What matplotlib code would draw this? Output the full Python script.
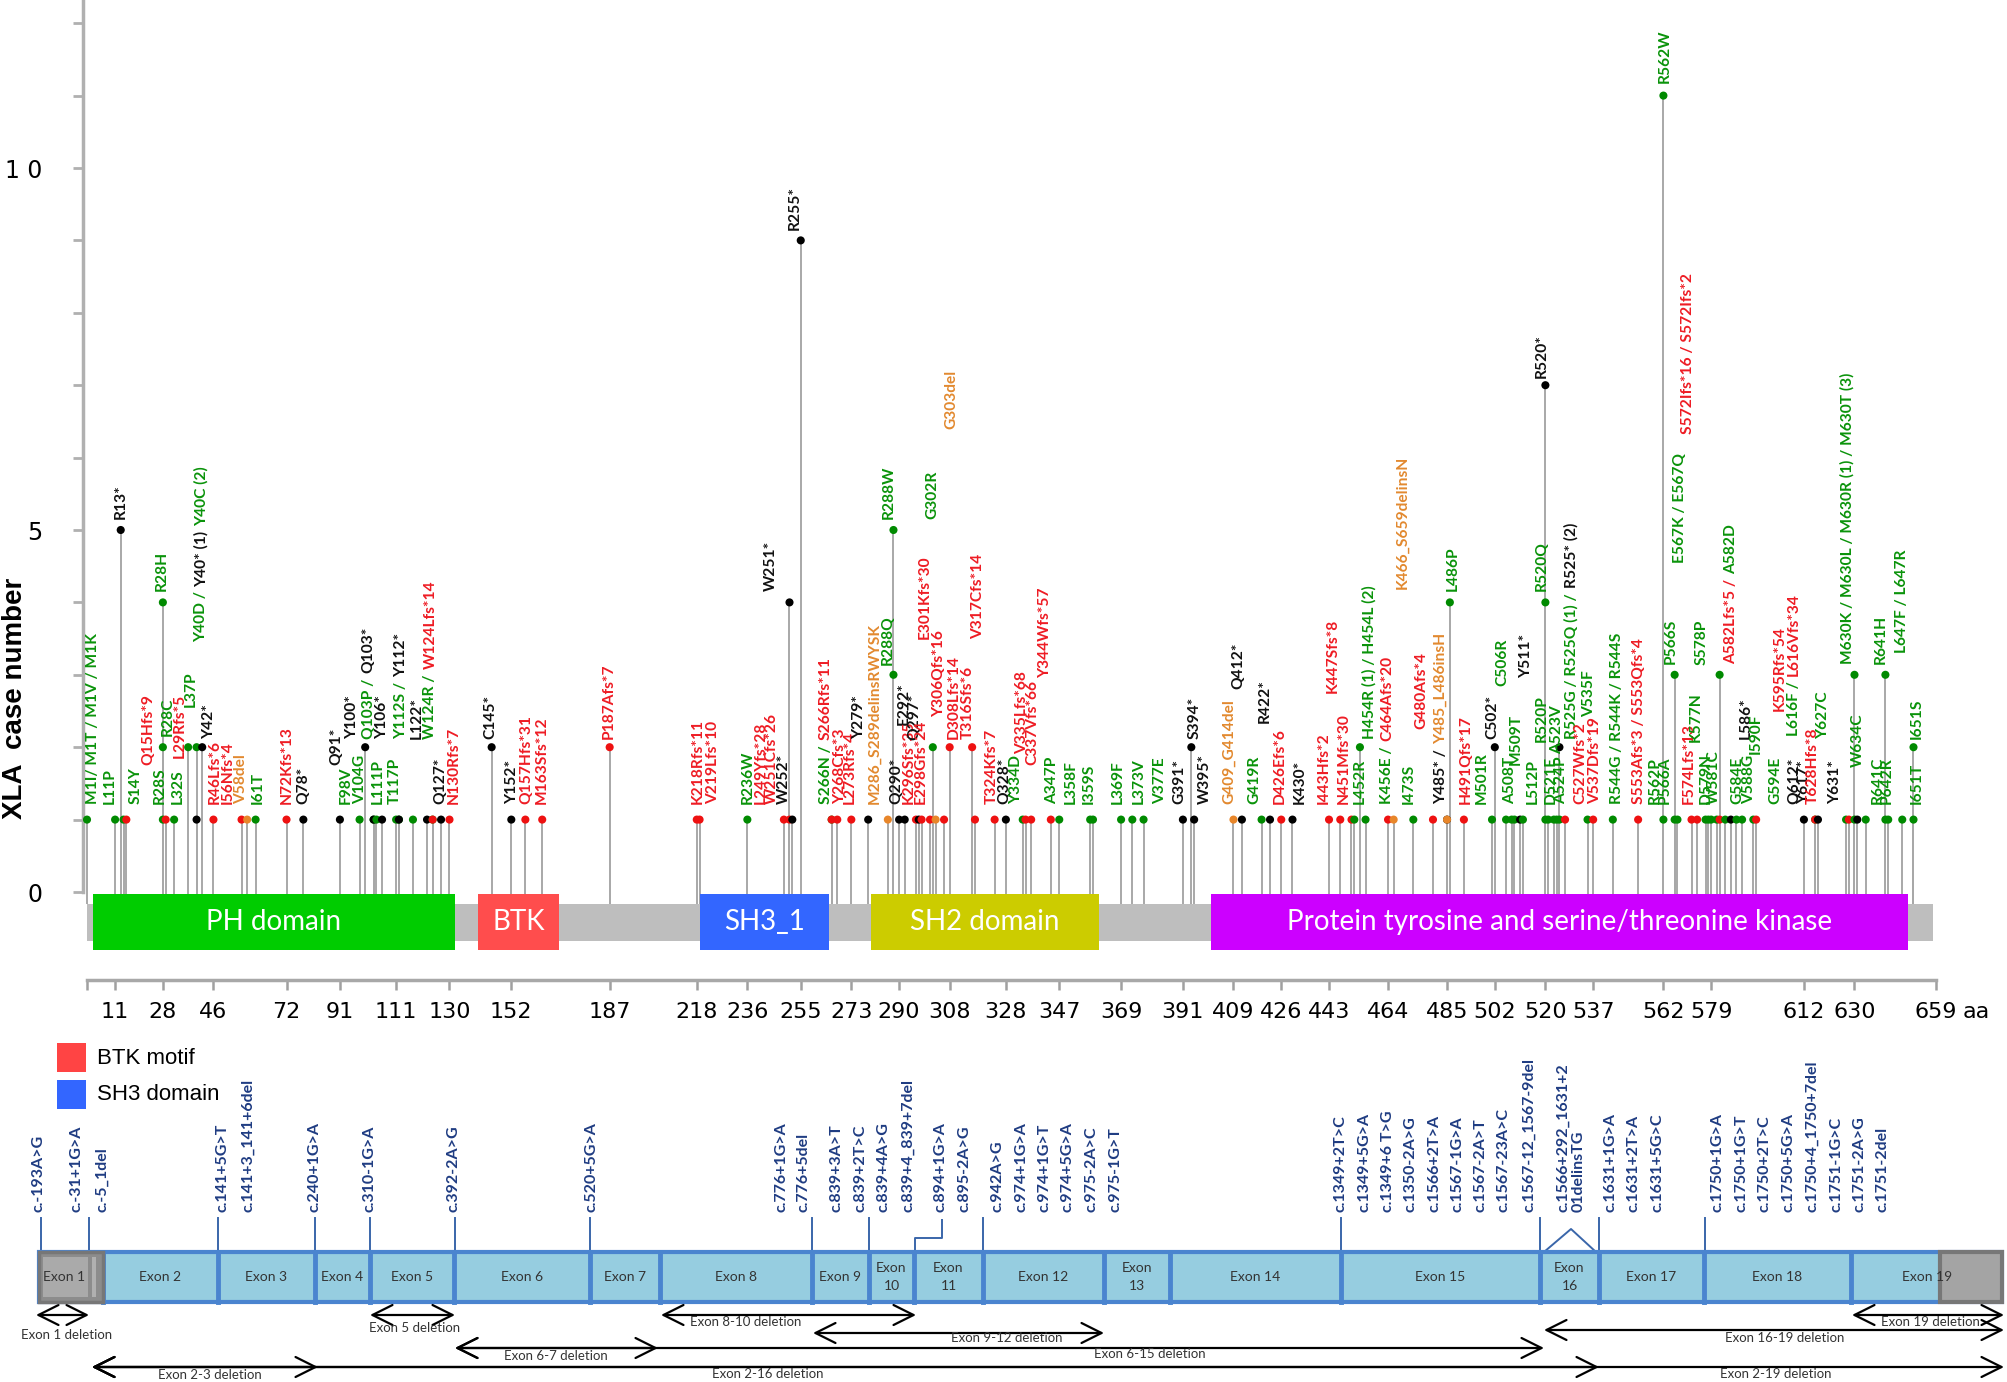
import matplotlib
matplotlib.use('Agg')
import matplotlib.pyplot as plt
from matplotlib.patches import Rectangle
from matplotlib import transforms

W, H = 2008, 1382
fig = plt.figure(figsize=(W / 100, H / 100), dpi=100)

# ---------------- data ----------------
protein_length = 659
domain_names = ['PH domain', 'BTK', 'SH3_1', 'SH2 domain',
                'Protein tyrosine and serine/threonine kinase']
domain_start = [3, 140, 219, 280, 401]
domain_end = [132, 169, 265, 361, 649]
ruler_ticks = [1, 11, 28, 46, 72, 91, 111, 130, 152, 187, 218, 236, 255, 273, 290,
               308, 328, 347, 369, 391, 409, 426, 443, 464, 485, 502, 520, 537, 562,
               579, 612, 630, 659]

mut_pos = [1, 11, 13, 14, 15, 28, 28, 28, 29, 32, 37, 40, 40, 42, 46, 56, 58, 61, 72, 78,
           91, 98, 100, 103, 103, 104, 106, 111, 112, 112, 117, 122, 124, 124, 127, 130,
           145, 152, 157, 163, 187, 218, 219, 236, 249, 251, 251, 252, 255, 266, 266, 268,
           273, 279, 286, 288, 288, 290, 292, 296, 297, 298, 301, 302, 303, 306, 308, 316,
           317, 324, 328, 334, 335, 337, 344, 347, 358, 359, 369, 373, 377, 391, 394, 395,
           409, 412, 419, 422, 426, 430, 443, 447, 451, 452, 454, 456, 464, 466, 473, 480,
           485, 485, 486, 491, 501, 502, 506, 508, 509, 511, 512, 520, 520, 520, 521, 523,
           524, 525, 525, 527, 535, 537, 544, 553, 562, 562, 566, 566, 567, 572, 574, 577,
           578, 579, 581, 582, 582, 584, 586, 588, 590, 594, 595, 612, 616, 616, 617, 627,
           628, 630, 630, 631, 634, 641, 641, 642, 647, 651, 651]
mut_count = [1, 1, 5, 1, 1, 1, 2, 4, 1, 1, 2, 2, 1, 2, 1, 1, 1, 1, 1, 1,
             1, 1, 2, 1, 1, 1, 1, 1, 1, 1, 1, 1, 1, 1, 1, 1,
             2, 1, 1, 1, 2, 1, 1, 1, 1, 1, 4, 1, 9, 1, 1, 1,
             1, 1, 1, 3, 5, 1, 1, 1, 1, 1, 1, 2, 1, 1, 2, 2,
             1, 1, 1, 1, 1, 1, 1, 1, 1, 1, 1, 1, 1, 1, 2, 1,
             1, 1, 1, 1, 1, 1, 1, 1, 1, 1, 2, 1, 1, 1, 1, 1,
             1, 1, 4, 1, 1, 2, 1, 1, 1, 1, 1, 1, 4, 7, 1, 1,
             1, 1, 2, 1, 1, 1, 1, 1, 1, 11, 1, 3, 1, 1, 1, 1,
             1, 1, 1, 1, 3, 1, 1, 1, 1, 1, 1, 1, 1, 1, 1, 1,
             1, 1, 3, 1, 1, 1, 3, 1, 1, 2, 1]
mut_type = ['mis', 'mis', 'non', 'mis', 'fs', 'mis', 'mis', 'mis', 'fs', 'mis', 'mis', 'mis', 'non', 'non', 'fs', 'fs', 'inf', 'mis', 'fs', 'non',
            'non', 'mis', 'non', 'mis', 'non', 'mis', 'non', 'mis', 'mis', 'non', 'mis', 'non', 'mis', 'fs', 'non', 'fs',
            'non', 'non', 'fs', 'fs', 'fs', 'fs', 'fs', 'mis', 'fs', 'fs', 'non', 'non', 'non', 'mis', 'fs', 'fs',
            'fs', 'non', 'inf', 'mis', 'mis', 'non', 'non', 'fs', 'non', 'fs', 'fs', 'mis', 'inf', 'fs', 'fs', 'fs',
            'fs', 'fs', 'non', 'mis', 'fs', 'fs', 'fs', 'mis', 'mis', 'mis', 'mis', 'mis', 'mis', 'non', 'non', 'non',
            'inf', 'non', 'mis', 'non', 'fs', 'non', 'fs', 'fs', 'fs', 'mis', 'mis', 'mis', 'fs', 'inf', 'mis', 'fs',
            'non', 'inf', 'mis', 'fs', 'mis', 'non', 'mis', 'mis', 'mis', 'non', 'mis', 'mis', 'mis', 'non', 'mis', 'mis',
            'mis', 'mis', 'non', 'fs', 'mis', 'fs', 'mis', 'fs', 'mis', 'mis', 'mis', 'mis', 'mis', 'fs', 'fs', 'mis',
            'mis', 'mis', 'mis', 'fs', 'mis', 'mis', 'non', 'mis', 'mis', 'mis', 'fs', 'non', 'mis', 'fs', 'non', 'mis',
            'fs', 'mis', 'mis', 'non', 'mis', 'mis', 'mis', 'mis', 'mis', 'mis', 'mis']

# label layout: (anchor aa, bottom case-number level, [(text, kind), ...])
mut_labels = [
    (3.3, 1.22, [('M1I/ M1T / M1V / M1K', 'mis')]),
    (9.2, 1.22, [('L11P', 'mis')]),
    (13.0, 5.15, [('R13*', 'non')]),
    (18.3, 1.22, [('S14Y', 'mis')]),
    (22.9, 1.75, [('Q15Hfs*9', 'fs')]),
    (27.0, 1.22, [('R28S', 'mis')]),
    (29.7, 2.15, [('R28C', 'mis')]),
    (27.5, 4.16, [('R28H', 'mis')]),
    (33.4, 1.22, [('L32S', 'mis')]),
    (34.0, 1.85, [('L29Rfs*5', 'fs')]),
    (37.9, 2.55, [('L37P', 'mis')]),
    (41.6, 3.45, [('Y40D /', 'mis'), ('Y40* (1)', 'non'), ('Y40C (2)', 'mis')]),
    (44.3, 2.12, [('Y42*', 'non')]),
    (46.6, 1.22, [('R46Lfs*6', 'fs')]),
    (51.2, 1.22, [('I56Nfs*4', 'fs')]),
    (55.7, 1.22, [('V58del', 'inf')]),
    (61.6, 1.22, [('I61T', 'mis')]),
    (72.1, 1.22, [('N72Kfs*13', 'fs')]),
    (78.0, 1.22, [('Q78*', 'non')]),
    (89.9, 1.75, [('Q91*', 'non')]),
    (93.1, 1.22, [('F98V', 'mis')]),
    (95.4, 2.12, [('Y100*', 'non')]),
    (98.1, 1.22, [('V104G', 'mis')]),
    (101.3, 2.12, [('Q103P /', 'mis'), ('Q103*', 'non')]),
    (104.5, 1.22, [('L111P', 'mis')]),
    (106.0, 2.12, [('Y106*', 'non')]),
    (110.4, 1.22, [('T117P', 'mis')]),
    (112.7, 2.12, [('Y112S /', 'mis'), ('Y112*', 'non')]),
    (118.2, 2.12, [('L122*', 'non')]),
    (123.2, 2.12, [('W124R /', 'mis'), ('W124Lfs*14', 'fs')]),
    (126.8, 1.22, [('Q127*', 'non')]),
    (131.4, 1.22, [('N130Rfs*7', 'fs')]),
    (144.6, 2.12, [('C145*', 'non')]),
    (152.3, 1.22, [('Y152*', 'non')]),
    (157.3, 1.22, [('Q157Hfs*31', 'fs')]),
    (162.8, 1.22, [('M163Sfs*12', 'fs')]),
    (186.5, 2.12, [('P187Afs*7', 'fs')]),
    (218.4, 1.22, [('K218Rfs*11', 'fs')]),
    (223.9, 1.22, [('V219Lfs*10', 'fs')]),
    (236.2, 1.22, [('R236W', 'mis')]),
    (240.7, 1.22, [('L249Yfs*28', 'fs')]),
    (244.8, 1.22, [('W251Cfs*26', 'fs')]),
    (248.9, 1.22, [('W252*', 'non')]),
    (244.4, 4.16, [('W251*', 'non')]),
    (253.0, 9.15, [('R255*', 'non')]),
    (264.0, 1.22, [('S266N /', 'mis'), ('S266Rfs*11', 'fs')]),
    (269.0, 1.22, [('Y268Cfs*3', 'fs')]),
    (272.6, 1.22, [('L273Rfs*4', 'fs')]),
    (275.8, 2.12, [('Y279*', 'non')]),
    (281.3, 1.22, [('M286_S289delinsRWYSK', 'inf')]),
    (285.9, 3.14, [('R288Q', 'mis')]),
    (286.3, 5.15, [('R288W', 'mis')]),
    (289.0, 1.22, [('Q290*', 'non')]),
    (291.8, 2.3, [('E292*', 'non')]),
    (293.6, 1.22, [('K296Sfs*35', 'fs')]),
    (295.6, 2.1, [('Q297*', 'non')]),
    (297.7, 1.22, [('E298Gfs*24', 'fs')]),
    (299.0, 3.49, [('E301Kfs*30', 'fs')]),
    (301.8, 5.15, [('G302R', 'mis')]),
    (304.1, 2.42, [('Y306Qfs*16', 'fs')]),
    (308.6, 6.4, [('G303del', 'inf')]),
    (309.5, 2.12, [('D308Lfs*14', 'fs')]),
    (314.6, 2.12, [('T316Sfs*6', 'fs')]),
    (318.2, 3.49, [('V317Cfs*14', 'fs')]),
    (322.8, 1.22, [('T324Kfs*7', 'fs')]),
    (327.4, 1.22, [('Q328*', 'non')]),
    (331.6, 1.22, [('Y334D', 'mis')]),
    (333.7, 1.9, [('V335Lfs*68', 'fs')]),
    (337.4, 1.75, [('C337Vfs*66', 'fs')]),
    (341.9, 2.96, [('Y344Wfs*57', 'fs')]),
    (344.6, 1.22, [('A347P', 'mis')]),
    (351.0, 1.22, [('L358F', 'mis')]),
    (357.4, 1.22, [('I359S', 'mis')]),
    (367.9, 1.22, [('L369F', 'mis')]),
    (375.2, 1.22, [('L373V', 'mis')]),
    (382.9, 1.22, [('V377E', 'mis')]),
    (389.7, 1.22, [('G391*', 'non')]),
    (395.2, 2.12, [('S394*', 'non')]),
    (398.9, 1.22, [('W395*', 'non')]),
    (407.5, 1.22, [('G409_G414del', 'inf')]),
    (410.7, 2.8, [('Q412*', 'non')]),
    (416.6, 1.22, [('G419R', 'mis')]),
    (420.3, 2.34, [('R422*', 'non')]),
    (425.3, 1.22, [('D426Efs*6', 'fs')]),
    (432.6, 1.22, [('K430*', 'non')]),
    (441.2, 1.22, [('I443Hfs*2', 'fs')]),
    (444.5, 2.75, [('K447Sfs*8', 'fs')]),
    (448.1, 1.22, [('N451Mfs*30', 'fs')]),
    (454.0, 1.22, [('L452R', 'mis')]),
    (457.2, 2.12, [('H454R (1) / H454L (2)', 'mis')]),
    (463.6, 1.22, [('K456E /', 'mis'), ('C464Afs*20', 'fs')]),
    (469.0, 4.19, [('K466_S659delinsN', 'inf')]),
    (471.3, 1.22, [('I473S', 'mis')]),
    (476.0, 2.25, [('G480Afs*4', 'fs')]),
    (482.8, 1.22, [('Y485* /', 'non'), ('Y485_L486insH', 'inf')]),
    (487.0, 4.16, [('L486P', 'mis')]),
    (491.8, 1.22, [('H491Qfs*17', 'fs')]),
    (497.3, 1.22, [('M501R', 'mis')]),
    (501.0, 2.12, [('C502*', 'non')]),
    (504.6, 2.85, [('C506R', 'mis')]),
    (507.3, 1.22, [('A508T', 'mis')]),
    (509.6, 1.75, [('M509T', 'mis')]),
    (513.0, 2.96, [('Y511*', 'non')]),
    (515.5, 1.22, [('L512P', 'mis')]),
    (518.7, 2.07, [('R520P', 'mis')]),
    (518.7, 4.16, [('R520Q', 'mis')]),
    (518.7, 7.1, [('R520*', 'non')]),
    (521.9, 1.22, [('D521E', 'mis')]),
    (524.2, 1.9, [('A523V', 'mis')]),
    (525.5, 1.22, [('A524P', 'mis')]),
    (529.2, 2.12, [('R525G / R525Q (1) /', 'mis'), ('R525* (2)', 'non')]),
    (532.4, 1.22, [('C527Wfs*2', 'fs')]),
    (535.6, 2.42, [('V535F', 'mis')]),
    (537.8, 1.22, [('V537Dfs*19', 'fs')]),
    (545.6, 1.22, [('R544G / R544K / R544S', 'mis')]),
    (553.3, 1.22, [('S553Afs*3 / S553Qfs*4', 'fs')]),
    (558.8, 1.22, [('R562P', 'mis')]),
    (562.5, 11.18, [('R562W', 'mis')]),
    (562.5, 1.22, [('P566A', 'mis')]),
    (564.7, 3.15, [('P566S', 'mis')]),
    (567.9, 4.55, [('E567K / E567Q', 'mis')]),
    (570.7, 6.32, [('S572Ifs*16 / S572Ifs*2', 'fs')]),
    (571.1, 1.22, [('F574Lfs*13', 'fs')]),
    (573.4, 2.07, [('K577N', 'mis')]),
    (575.7, 3.13, [('S578P', 'mis')]),
    (577.0, 1.22, [('D579N', 'mis')]),
    (579.8, 1.22, [('W581C', 'mis')]),
    (586.2, 3.15, [('A582Lfs*5 /', 'fs'), ('A582D', 'mis')]),
    (588.4, 1.22, [('G584E', 'mis')]),
    (591.2, 2.12, [('L586*', 'non')]),
    (592.5, 1.22, [('V588G', 'mis')]),
    (595.0, 1.9, [('I590F', 'mis')]),
    (601.7, 1.22, [('G594E', 'mis')]),
    (603.4, 2.5, [('K595Rfs*54', 'fs')]),
    (608.4, 2.16, [('L616F /', 'mis'), ('L616Vfs*34', 'fs')]),
    (608.5, 1.22, [('Q612*', 'non')]),
    (612.1, 1.22, [('Y617*', 'non')]),
    (615.3, 1.22, [('T628Hfs*8', 'fs')]),
    (619.0, 2.12, [('Y627C', 'mis')]),
    (623.1, 1.22, [('Y631*', 'non')]),
    (627.6, 3.15, [('M630K / M630L / M630R (1) / M630T (3)', 'mis')]),
    (631.3, 1.72, [('W634C', 'mis')]),
    (638.1, 1.22, [('R641C', 'mis')]),
    (641.6, 1.22, [('P642R', 'mis')]),
    (639.5, 3.15, [('R641H', 'mis')]),
    (646.8, 3.3, [('L647F / L647R', 'mis')]),
    (652.2, 2.12, [('I651S', 'mis')]),
    (652.2, 1.22, [('I651T', 'mis')]),
]

# exon diagram (schematic units)
exon_names = ['Exon 1', 'Exon 2', 'Exon 3', 'Exon 4', 'Exon 5', 'Exon 6', 'Exon 7', 'Exon 8',
              'Exon 9', 'Exon\n10', 'Exon\n11', 'Exon 12', 'Exon\n13', 'Exon 14', 'Exon 15',
              'Exon\n16', 'Exon 17', 'Exon 18', 'Exon 19']
exon_bounds = [39, 103, 218, 315, 370, 454, 590, 660, 812, 869, 914, 983, 1104, 1170,
               1341, 1540, 1599, 1704, 1851, 2002]
utr3_start = 1940

splice_labels = ['c.-193A>G', 'c.-31+1G>A', 'c.-5_1del', 'c.141+5G>T', 'c.141+3_141+6del',
                 'c.240+1G>A', 'c.310-1G>A', 'c.392-2A>G', 'c.520+5G>A', 'c.776+1G>A',
                 'c.776+5del', 'c.839+3A>T', 'c.839+2T>C', 'c.839+4A>G', 'c.839+4_839+7del',
                 'c.894+1G>A', 'c.895-2A>G', 'c.942A>G', 'c.974+1G>A', 'c.974+1G>T',
                 'c.974+5G>A', 'c.975-2A>C', 'c.975-1G>T', 'c.1349+2T>C', 'c.1349+5G>A',
                 'c.1349+6 T>G', 'c.1350-2A>G', 'c.1566+2T>A', 'c.1567-1G>A', 'c.1567-2A>T',
                 'c.1567-23A>C', 'c.1567-12_1567-9del', 'c.1566+292_1631+2\n01delinsTG',
                 'c.1631+1G>A', 'c.1631+2T>A', 'c.1631+5G>C', 'c.1750+1G>A', 'c.1750+1G>T',
                 'c.1750+2T>C', 'c.1750+5G>A', 'c.1750+4_1750+7del', 'c.1751-1G>C',
                 'c.1751-2A>G', 'c.1751-2del']
splice_x = [39, 77, 102, 223, 248, 315, 370, 454, 592, 782, 804, 837, 861, 884, 908, 941,
            965, 998, 1022, 1045, 1068, 1092, 1116, 1341, 1365, 1388, 1411, 1435, 1458,
            1481, 1504, 1529, 1571, 1611, 1634, 1658, 1718, 1742, 1765, 1789, 1812, 1837,
            1860, 1883]
connector_x = [41, 89, 218, 315, 370, 455, 590, 812, 869, 983, 1341, 1540, 1599, 1705]

del_names = ['Exon 1 deletion', 'Exon 5 deletion', 'Exon 8-10 deletion', 'Exon 19 deletion',
             'Exon 9-12 deletion', 'Exon 16-19 deletion', 'Exon 6-15 deletion',
             'Exon 6-7 deletion', 'Exon 2-19 deletion', 'Exon 2-16 deletion',
             'Exon 2-3 deletion']
del_start = [36, 370, 661, 1852, 813, 1544, 455, 455, 92, 92, 92]
del_end = [89, 455, 916, 2004, 1104, 2004, 1544, 658, 2004, 1599, 318]

legend_names = ['BTK motif', 'SH3 domain']

# ---------------- styles ----------------
domain_colors = ['#00cc00', '#ff4d4d', '#3366ff', '#cccc00', '#cc00ff']
dot_colors = {'mis': '#008a00', 'non': '#000000', 'fs': '#ee1111', 'inf': '#e8862a'}
label_colors = {'mis': '#0a930a', 'non': '#111111', 'fs': '#ee1c24', 'inf': '#e2892f'}
legend_colors = ['#ff4444', '#3366ff']

# ---------------- top panel: lollipops ----------------
slope = 2.81      # px per aa
ypx = 72.4        # px per case
ax = fig.add_axes([83 / W, (H - 980) / H, 1912 / W, 980 / H])
x0 = 1 - 4 / slope
ax.set_xlim(x0, x0 + 1912 / slope)
ax.set_ylim(-(980 - 892) / ypx, 892 / ypx)
ytop = 892 / ypx

for s in ['top', 'right']:
    ax.spines[s].set_visible(False)
ax.spines['left'].set_bounds(0, ytop)
ax.spines['left'].set_color('#b0b0b0')
ax.spines['left'].set_linewidth(2.5)
ax.spines['bottom'].set_bounds(1, protein_length)
ax.spines['bottom'].set_color('#a8a8a8')
ax.spines['bottom'].set_linewidth(2.5)

ax.set_yticks(range(0, 13))
ax.set_yticklabels(['1 0' if v == 10 else (str(v) if v in (0, 5) else '') for v in range(13)])
ax.tick_params(axis='y', length=7, width=2, color='#b0b0b0', pad=22, labelsize=17)
ax.set_xticks(ruler_ticks)
ax.set_xticklabels(['' if t == 1 else str(t) for t in ruler_ticks])
ax.tick_params(axis='x', length=7, width=1.8, color='#a0a0a0', pad=9, labelsize=16)
ax.annotate('aa', xy=(protein_length, 0), xycoords=('data', 'axes fraction'),
            xytext=(19, -16), textcoords='offset points', ha='left', va='top', fontsize=16)

fig.text(15 / W, 1 - 698 / H, 'XLA  case number', rotation=90, ha='center', va='center',
         fontsize=20, fontweight='bold', family='Liberation Sans')

# protein bar and domains
ax.add_patch(Rectangle((1, -0.677), protein_length - 2, 0.511, facecolor='#bebebe',
                       edgecolor='none', zorder=2))
for name, s0, e0, c in zip(domain_names, domain_start, domain_end, domain_colors):
    ax.add_patch(Rectangle((s0, -0.80), e0 - s0, 0.77, facecolor=c, edgecolor='none', zorder=3))
    ax.text((s0 + e0) / 2, -0.415, name, ha='center', va='center', color='white',
            fontsize=20, family='Lato', zorder=4)

# stems and dots
ax.vlines(mut_pos, -0.17, mut_count, colors='#a8a8a8', linewidth=1.4, zorder=1)
ax.scatter(mut_pos, mut_count, s=34, c=[dot_colors[t] for t in mut_type],
           edgecolors='none', zorder=5)

renderer = fig.canvas.get_renderer()
LFS = 11.2


def seg_label(x, y, segs):
    off = 0.0
    for txt, kind in segs:
        tr = transforms.offset_copy(ax.transData, fig=fig, x=0, y=off, units='dots')
        t = ax.text(x, y, txt, rotation=90, ha='center', va='bottom', fontsize=LFS,
                    fontweight='bold', color=label_colors[kind], family='Lato',
                    transform=tr, zorder=6)
        bb = t.get_window_extent(renderer)
        off += bb.height + LFS * 0.3 * 100 / 72


for x, y, segs in mut_labels:
    seg_label(x, y, segs)

# ---------------- bottom panel: exon diagram ----------------
bx = fig.add_axes([0, 0, 1, 362 / H])
bx.set_xlim(0, W)
bx.set_ylim(H, 1020)
bx.axis('off')

blue_edge = '#4a84cf'
light_blue = '#96cde0'
y_top, y_bot = 1252, 1302
bx.add_patch(Rectangle((exon_bounds[0], y_top), exon_bounds[-1] - exon_bounds[0], y_bot - y_top,
                       facecolor=light_blue, edgecolor=blue_edge, linewidth=3, zorder=2))
for b in exon_bounds[1:-1]:
    bx.plot([b, b], [y_top, y_bot], color=blue_edge, linewidth=3.5, zorder=3)
# UTR (grey) parts
bx.add_patch(Rectangle((exon_bounds[0], y_top), exon_bounds[1] - exon_bounds[0], y_bot - y_top,
                       facecolor='#8c8c8c', edgecolor='#777777', linewidth=2.5, zorder=4))
bx.add_patch(Rectangle((exon_bounds[0] + 4, y_top + 5), 45, y_bot - y_top - 10,
                       facecolor='#aaaaaa', edgecolor='none', zorder=5))
bx.add_patch(Rectangle((exon_bounds[0] + 53, y_top + 5), 4, y_bot - y_top - 10,
                       facecolor='#b0b0b0', edgecolor='none', zorder=5))
bx.add_patch(Rectangle((utr3_start, y_top), exon_bounds[-1] - utr3_start, y_bot - y_top,
                       facecolor='#a4a4a4', edgecolor='#777777', linewidth=3, zorder=4))

for i, name in enumerate(exon_names):
    cx = (exon_bounds[i] + exon_bounds[i + 1]) / 2
    if i == 0:
        cx = exon_bounds[0] + 25
    if i == len(exon_names) - 1:
        cx = 1927
    bx.text(cx, (y_top + y_bot) / 2, name, ha='center', va='center', fontsize=10,
            color='#333333', family='Lato', linespacing=1.7, zorder=6)

navy = '#1f3c82'
for lab, x in zip(splice_labels, splice_x):
    bx.text(x, 1212, lab, rotation=90, ha='center', va='bottom', fontsize=11.5,
            fontweight='bold', color=navy, family='Lato', multialignment='left',
            linespacing=1.1)
for x in connector_x:
    bx.plot([x, x], [1218, y_top], color='#3a66aa', linewidth=1.4, zorder=1)
bx.plot([942, 942, 915, 915], [1220, 1238, 1238, y_top], color='#3a66aa', linewidth=1.4, zorder=1)
bx.plot([1544, 1571, 1596], [y_top, 1229, y_top], color='#3a66aa', linewidth=1.4, zorder=1)

# deletion arrows
del_rows = [1315, 1315, 1315, 1315, 1333, 1330, 1348, 1348, 1367, 1367, 1367]
del_text_pos = [(67, 1335), (415, 1328), (746, 1322), (1930, 1322), (1007, 1338),
                (1785, 1338), (1150, 1354), (556, 1356), (1776, 1374), (768, 1374),
                (210, 1375)]
for name, s0, e0, yy, tp in zip(del_names, del_start, del_end, del_rows, del_text_pos):
    bx.annotate('', xy=(e0, yy), xytext=(s0, yy),
                arrowprops=dict(arrowstyle='<->,head_length=1.2,head_width=0.6',
                                color='black', linewidth=1.6, shrinkA=0, shrinkB=0,
                                mutation_scale=12))
    bx.text(tp[0], tp[1], name, ha='center', va='center', fontsize=9.5, color='#333333',
            family='Lato')

# legend
for i, (nm, c) in enumerate(zip(legend_names, legend_colors)):
    y0 = 1043 + i * 37
    bx.add_patch(Rectangle((57, y0), 29, 29, facecolor=c, edgecolor='none', zorder=3))
    bx.text(97, y0 + 15, nm, ha='left', va='center', fontsize=16, family='Liberation Sans',
            zorder=3)

fig.savefig('out.png', dpi=100)
